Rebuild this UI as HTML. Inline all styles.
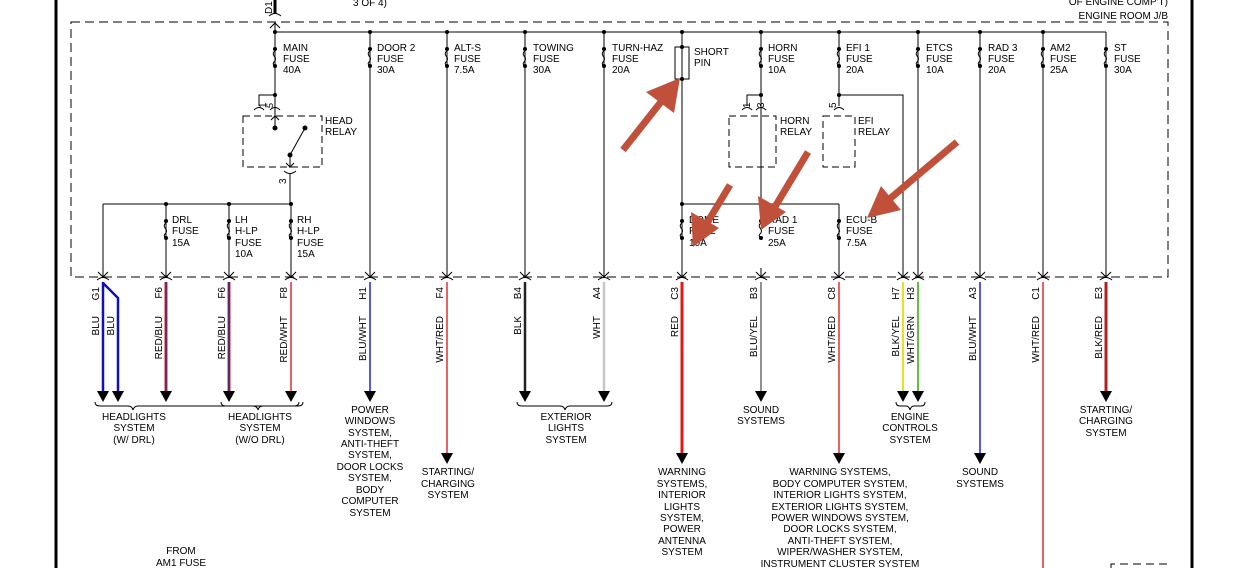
<!DOCTYPE html>
<html><head><meta charset="utf-8"><style>
html,body{margin:0;padding:0;background:#fff}
svg{display:block}
text{font-family:"Liberation Sans",Arial,sans-serif;font-size:10px;fill:#000}
.c{text-anchor:middle}
</style></head><body>
<svg width="1237" height="568" viewBox="0 0 1237 568" xmlns="http://www.w3.org/2000/svg">
<defs>
<g id="fz"><circle cx="0" cy="0" r="2"/><circle cx="0" cy="17" r="2"/><path d="M0,2 q-3,2 -1,5 q3,3 0,6 q-2,2 1,4" fill="none" stroke="#000" stroke-width="1"/></g>
<g id="cn"><path d="M-5,-5 L0,0 L5,-5 M0,-9 V0" fill="none" stroke="#000" stroke-width="1"/><path d="M-6,3 q6,-5 12,0" fill="none" stroke="#000" stroke-width="1"/></g>
<g id="ah"><path d="M-6,-11 L6,-11 L0,0 Z" fill="#000"/></g>
<g id="dt"><circle r="2" fill="#000"/></g>
</defs>
<g stroke="#000" fill="none">
<line x1="56" y1="0" x2="56" y2="568" stroke-width="3"/>
<line x1="1192" y1="0" x2="1192" y2="568" stroke-width="3"/>
<rect x="71" y="22" width="1097" height="255" stroke-dasharray="9,5" stroke-width="1"/>
<path d="M1111,568 V564 H1168 V568" stroke-dasharray="8,5"/>
<line x1="275" y1="0" x2="275" y2="14" stroke-width="3"/>
<path d="M269,16 q6,-5 12,0 M270,28 L275,23 L280,28 M275,23 V32"/>
<line x1="275" y1="32" x2="1106" y2="32"/>
<!-- top verticals -->
<path d="M275,32 V95 M370,32 V277 M447,32 V277 M525,32 V277 M604,32 V277 M682,32 V277 M761,32 V204 M839,32 V95 M918,32 V277 M980,32 V277 M1043,32 V277 M1106,32 V277"/>
<!-- head relay -->
<path d="M275,95 H259 V106 M275,95 V112"/>
<path d="M254,110 q5,-5 10,0 M270,110 q5,-5 10,0"/>
<rect x="243" y="116" width="79" height="51" stroke-dasharray="7,4"/>
<path d="M275,112 V128 M271,120 L275,116 L279,120"/>
<circle cx="275" cy="128" r="2" fill="#000"/>
<path d="M290,155 L305,128"/><circle cx="305" cy="128" r="2" fill="#000"/><circle cx="290" cy="155" r="2" fill="#000"/>
<path d="M290,155 V168 M286,163 L290,167 L294,163 M284,171 q6,5 12,0 M290,174 V204"/>
<line x1="103" y1="204" x2="291" y2="204"/>
<path d="M103,204 V277 M166,204 V277 M229,204 V277 M291,204 V277"/>
<!-- short pin -->
<rect x="675" y="47" width="14" height="32"/>
<line x1="682" y1="204" x2="839" y2="204"/>
<path d="M839,204 V277"/>
<!-- horn relay -->
<path d="M761,95 H747 V106 M761,95 V106"/>
<path d="M742,110 q5,-5 10,0 M756,110 q5,-5 10,0"/>
<rect x="729" y="116" width="47" height="51" stroke-dasharray="7,4"/>
<!-- efi relay -->
<path d="M839,95 V106 M839,95 H903 V277"/>
<path d="M834,110 q5,-5 10,0"/>
<rect x="823" y="116" width="32" height="51" stroke-dasharray="7,4"/>
</g>
<g fill="#000">
<use href="#dt" x="275" y="32"/><use href="#dt" x="370" y="32"/><use href="#dt" x="447" y="32"/><use href="#dt" x="525" y="32"/><use href="#dt" x="604" y="32"/><use href="#dt" x="682" y="32"/><use href="#dt" x="761" y="32"/><use href="#dt" x="839" y="32"/><use href="#dt" x="918" y="32"/><use href="#dt" x="980" y="32"/><use href="#dt" x="1043" y="32"/>
<use href="#dt" x="275" y="95"/><use href="#dt" x="761" y="95"/><use href="#dt" x="839" y="95"/>
<use href="#dt" x="166" y="204"/><use href="#dt" x="229" y="204"/><use href="#dt" x="291" y="204"/>
<use href="#dt" x="682" y="204"/><use href="#dt" x="761" y="204"/><use href="#dt" x="682" y="79"/><use href="#dt" x="682" y="47"/>
</g>
<g>
<use href="#fz" x="275" y="49"/><use href="#fz" x="370" y="49"/><use href="#fz" x="447" y="49"/><use href="#fz" x="525" y="49"/><use href="#fz" x="604" y="49"/><use href="#fz" x="761" y="49"/><use href="#fz" x="839" y="49"/><use href="#fz" x="918" y="49"/><use href="#fz" x="980" y="49"/><use href="#fz" x="1043" y="49"/><use href="#fz" x="1106" y="49"/>
<use href="#fz" x="166" y="221"/><use href="#fz" x="229" y="221"/><use href="#fz" x="291" y="221"/><use href="#fz" x="682" y="221"/><use href="#fz" x="761" y="221"/><use href="#fz" x="839" y="221"/>
</g>
<g>
<use href="#cn" x="103" y="277"/><use href="#cn" x="166" y="277"/><use href="#cn" x="229" y="277"/><use href="#cn" x="291" y="277"/><use href="#cn" x="370" y="277"/><use href="#cn" x="447" y="277"/><use href="#cn" x="525" y="277"/><use href="#cn" x="604" y="277"/><use href="#cn" x="682" y="277"/><use href="#cn" x="761" y="277"/><use href="#cn" x="839" y="277"/><use href="#cn" x="903" y="277"/><use href="#cn" x="918" y="277"/><use href="#cn" x="980" y="277"/><use href="#cn" x="1043" y="277"/><use href="#cn" x="1106" y="277"/>
</g>
<!-- wires -->
<g fill="none">
<path d="M103,282 V392 M103,283 L118,298 V392" stroke="#1010c0" stroke-width="2.5"/>
<line x1="166" y1="282" x2="166" y2="392" stroke="#c03030" stroke-width="3"/><line x1="166" y1="282" x2="166" y2="392" stroke="#2020a0" stroke-width="1"/>
<line x1="229" y1="282" x2="229" y2="392" stroke="#c03030" stroke-width="3"/><line x1="229" y1="282" x2="229" y2="392" stroke="#2020a0" stroke-width="1.2"/>
<line x1="291" y1="282" x2="291" y2="392" stroke="#e03030" stroke-width="1.5"/>
<line x1="370" y1="282" x2="370" y2="392" stroke="#2020d0" stroke-width="1.5"/>
<line x1="447" y1="282" x2="447" y2="454" stroke="#e03030" stroke-width="1.5"/>
<line x1="525" y1="282" x2="525" y2="392" stroke="#222" stroke-width="2.5"/>
<line x1="604" y1="282" x2="604" y2="392" stroke="#c8c8c8" stroke-width="2.5"/>
<line x1="682" y1="282" x2="682" y2="454" stroke="#e01818" stroke-width="3"/>
<line x1="761" y1="282" x2="761" y2="392" stroke="#222" stroke-width="1"/>
<line x1="839" y1="282" x2="839" y2="454" stroke="#e03030" stroke-width="1.5"/>
<line x1="903" y1="282" x2="903" y2="392" stroke="#e8e020" stroke-width="2"/>
<line x1="918" y1="282" x2="918" y2="392" stroke="#60c040" stroke-width="2"/>
<line x1="980" y1="282" x2="980" y2="454" stroke="#2020e0" stroke-width="1.5"/>
<line x1="1043" y1="282" x2="1043" y2="568" stroke="#e03030" stroke-width="1.5"/>
<line x1="1106" y1="282" x2="1106" y2="392" stroke="#b02020" stroke-width="3"/>
</g>
<g>
<use href="#ah" x="103" y="402"/><use href="#ah" x="118" y="402"/><use href="#ah" x="166" y="402"/><use href="#ah" x="229" y="402"/><use href="#ah" x="291" y="402"/><use href="#ah" x="370" y="402"/><use href="#ah" x="525" y="402"/><use href="#ah" x="604" y="402"/><use href="#ah" x="761" y="402"/><use href="#ah" x="903" y="402"/><use href="#ah" x="918" y="402"/><use href="#ah" x="1106" y="402"/>
<use href="#ah" x="447" y="464"/><use href="#ah" x="682" y="464"/><use href="#ah" x="839" y="464"/><use href="#ah" x="980" y="464"/>
</g>
<g fill="none" stroke="#000" stroke-width="1">
<path d="M95,402 q0,4 5,4 H128 q4,0 5,4 q1,-4 5,-4 H298 q5,0 5,-4"/>
<path d="M221,402 q0,4 5,4 H253 q4,0 5,4 q1,-4 5,-4 H294 q5,0 5,-4"/>
<path d="M517,402 q0,4 5,4 H560 q4,0 5,4 q1,-4 5,-4 H607 q5,0 5,-4"/>
<path d="M896,402 q0,4 4,4 H906 q3,0 4,4 q1,-4 4,-4 H921 q4,0 4,-4"/>
</g>
<!-- top labels -->
<text x="353" y="6">3 OF 4)</text>
<text x="1168" y="5" text-anchor="end">OF ENGINE COMP'T)</text>
<text x="1168" y="19" text-anchor="end">ENGINE ROOM J/B</text>
<text transform="translate(272,14) rotate(-90)">D1</text>
<g>
<text x="283" y="51">MAIN</text><text x="283" y="62">FUSE</text><text x="283" y="73">40A</text>
<text x="377" y="51">DOOR 2</text><text x="377" y="62">FUSE</text><text x="377" y="73">30A</text>
<text x="454" y="51">ALT-S</text><text x="454" y="62">FUSE</text><text x="454" y="73">7.5A</text>
<text x="533" y="51">TOWING</text><text x="533" y="62">FUSE</text><text x="533" y="73">30A</text>
<text x="612" y="51">TURN-HAZ</text><text x="612" y="62">FUSE</text><text x="612" y="73">20A</text>
<text x="694" y="55">SHORT</text><text x="694" y="66">PIN</text>
<text x="768" y="51">HORN</text><text x="768" y="62">FUSE</text><text x="768" y="73">10A</text>
<text x="846" y="51">EFI 1</text><text x="846" y="62">FUSE</text><text x="846" y="73">20A</text>
<text x="926" y="51">ETCS</text><text x="926" y="62">FUSE</text><text x="926" y="73">10A</text>
<text x="988" y="51">RAD 3</text><text x="988" y="62">FUSE</text><text x="988" y="73">20A</text>
<text x="1050" y="51">AM2</text><text x="1050" y="62">FUSE</text><text x="1050" y="73">25A</text>
<text x="1114" y="51">ST</text><text x="1114" y="62">FUSE</text><text x="1114" y="73">30A</text>
<text x="325" y="124">HEAD</text><text x="325" y="135">RELAY</text>
<text x="780" y="124">HORN</text><text x="780" y="135">RELAY</text>
<text x="858" y="124">EFI</text><text x="858" y="135">RELAY</text>
<text transform="translate(266,108) rotate(-90)">1</text><text transform="translate(273,108) rotate(-90)" style="font-size:9px">5</text>
<text transform="translate(750,108) rotate(-90)">1</text><text transform="translate(764,108) rotate(-90)">3</text>
<text transform="translate(836,108) rotate(-90)">5</text>
<text transform="translate(286,184) rotate(-90)">3</text>
<text x="172" y="223">DRL</text><text x="172" y="234">FUSE</text><text x="172" y="246">15A</text>
<text x="235" y="223">LH</text><text x="235" y="234">H-LP</text><text x="235" y="246">FUSE</text><text x="235" y="257">10A</text>
<text x="297" y="223">RH</text><text x="297" y="234">H-LP</text><text x="297" y="246">FUSE</text><text x="297" y="257">15A</text>
<text x="689" y="223">DOME</text><text x="689" y="234">FUSE</text><text x="689" y="246">10A</text>
<text x="768" y="223">RAD 1</text><text x="768" y="234">FUSE</text><text x="768" y="246">25A</text>
<text x="846" y="223">ECU-B</text><text x="846" y="234">FUSE</text><text x="846" y="246">7.5A</text>
</g>
<!-- rotated wire labels -->
<g>
<text transform="translate(99,287) rotate(-90)" text-anchor="end">G1</text>
<text transform="translate(99,316) rotate(-90)" text-anchor="end">BLU</text>
<text transform="translate(114,316) rotate(-90)" text-anchor="end">BLU</text>
<text transform="translate(162,287) rotate(-90)" text-anchor="end">F6</text>
<text transform="translate(162,316) rotate(-90)" text-anchor="end">RED/BLU</text>
<text transform="translate(225,287) rotate(-90)" text-anchor="end">F6</text>
<text transform="translate(225,316) rotate(-90)" text-anchor="end">RED/BLU</text>
<text transform="translate(287,287) rotate(-90)" text-anchor="end">F8</text>
<text transform="translate(287,316) rotate(-90)" text-anchor="end">RED/WHT</text>
<text transform="translate(366,287) rotate(-90)" text-anchor="end">H1</text>
<text transform="translate(366,316) rotate(-90)" text-anchor="end">BLU/WHT</text>
<text transform="translate(443,287) rotate(-90)" text-anchor="end">F4</text>
<text transform="translate(443,316) rotate(-90)" text-anchor="end">WHT/RED</text>
<text transform="translate(521,287) rotate(-90)" text-anchor="end">B4</text>
<text transform="translate(521,316) rotate(-90)" text-anchor="end">BLK</text>
<text transform="translate(600,287) rotate(-90)" text-anchor="end">A4</text>
<text transform="translate(600,316) rotate(-90)" text-anchor="end">WHT</text>
<text transform="translate(678,287) rotate(-90)" text-anchor="end">C3</text>
<text transform="translate(678,316) rotate(-90)" text-anchor="end">RED</text>
<text transform="translate(757,287) rotate(-90)" text-anchor="end">B3</text>
<text transform="translate(757,316) rotate(-90)" text-anchor="end">BLU/YEL</text>
<text transform="translate(835,287) rotate(-90)" text-anchor="end">C8</text>
<text transform="translate(835,316) rotate(-90)" text-anchor="end">WHT/RED</text>
<text transform="translate(899,287) rotate(-90)" text-anchor="end">H7</text>
<text transform="translate(899,316) rotate(-90)" text-anchor="end">BLK/YEL</text>
<text transform="translate(914,287) rotate(-90)" text-anchor="end">H3</text>
<text transform="translate(914,316) rotate(-90)" text-anchor="end">WHT/GRN</text>
<text transform="translate(976,287) rotate(-90)" text-anchor="end">A3</text>
<text transform="translate(976,316) rotate(-90)" text-anchor="end">BLU/WHT</text>
<text transform="translate(1039,287) rotate(-90)" text-anchor="end">C1</text>
<text transform="translate(1039,316) rotate(-90)" text-anchor="end">WHT/RED</text>
<text transform="translate(1102,287) rotate(-90)" text-anchor="end">E3</text>
<text transform="translate(1102,316) rotate(-90)" text-anchor="end">BLK/RED</text>
</g>
<!-- destination labels -->
<g class="c">
<text class="c" x="134" y="420">HEADLIGHTS</text><text class="c" x="134" y="431">SYSTEM</text><text class="c" x="134" y="443">(W/ DRL)</text>
<text class="c" x="260" y="420">HEADLIGHTS</text><text class="c" x="260" y="431">SYSTEM</text><text class="c" x="260" y="443">(W/O DRL)</text>
<text class="c" x="370" y="413">POWER</text><text class="c" x="370" y="424">WINDOWS</text><text class="c" x="370" y="436">SYSTEM,</text><text class="c" x="370" y="447">ANTI-THEFT</text><text class="c" x="370" y="458">SYSTEM,</text><text class="c" x="370" y="470">DOOR LOCKS</text><text class="c" x="370" y="481">SYSTEM,</text><text class="c" x="370" y="493">BODY</text><text class="c" x="370" y="504">COMPUTER</text><text class="c" x="370" y="516">SYSTEM</text>
<text class="c" x="448" y="475">STARTING/</text><text class="c" x="448" y="487">CHARGING</text><text class="c" x="448" y="498">SYSTEM</text>
<text class="c" x="566" y="420">EXTERIOR</text><text class="c" x="566" y="431">LIGHTS</text><text class="c" x="566" y="443">SYSTEM</text>
<text class="c" x="682" y="475">WARNING</text><text class="c" x="682" y="487">SYSTEMS,</text><text class="c" x="682" y="498">INTERIOR</text><text class="c" x="682" y="510">LIGHTS</text><text class="c" x="682" y="521">SYSTEM,</text><text class="c" x="682" y="532">POWER</text><text class="c" x="682" y="544">ANTENNA</text><text class="c" x="682" y="555">SYSTEM</text>
<text class="c" x="761" y="413">SOUND</text><text class="c" x="761" y="424">SYSTEMS</text>
<text class="c" x="840" y="475">WARNING SYSTEMS,</text><text class="c" x="840" y="487">BODY COMPUTER SYSTEM,</text><text class="c" x="840" y="498">INTERIOR LIGHTS SYSTEM,</text><text class="c" x="840" y="510">EXTERIOR LIGHTS SYSTEM,</text><text class="c" x="840" y="521">POWER WINDOWS SYSTEM,</text><text class="c" x="840" y="532">DOOR LOCKS SYSTEM,</text><text class="c" x="840" y="544">ANTI-THEFT SYSTEM,</text><text class="c" x="840" y="555">WIPER/WASHER SYSTEM,</text><text class="c" x="840" y="567">INSTRUMENT CLUSTER SYSTEM</text>
<text class="c" x="910" y="420">ENGINE</text><text class="c" x="910" y="431">CONTROLS</text><text class="c" x="910" y="443">SYSTEM</text>
<text class="c" x="980" y="475">SOUND</text><text class="c" x="980" y="487">SYSTEMS</text>
<text class="c" x="1106" y="413">STARTING/</text><text class="c" x="1106" y="424">CHARGING</text><text class="c" x="1106" y="436">SYSTEM</text>
<text class="c" x="181" y="554">FROM</text><text class="c" x="181" y="566">AM1 FUSE</text>
</g>
<!-- red annotation arrows -->
<g stroke="#c0503a" stroke-width="7" fill="#c0503a" stroke-linecap="butt">
<line x1="623" y1="150" x2="668" y2="93"/>
<polygon stroke="none" points="680,78 674,113 646,92"/>
<line x1="730" y1="185" x2="701" y2="233"/>
<polygon stroke="none" points="693,247 691,212 719,228"/>
<line x1="808" y1="152" x2="770" y2="215"/>
<polygon stroke="none" points="761,230 758,196 786,212"/>
<line x1="957" y1="142" x2="880" y2="207"/>
<polygon stroke="none" points="867,218 881,186 901,210"/>
</g>
</svg>
</body></html>
